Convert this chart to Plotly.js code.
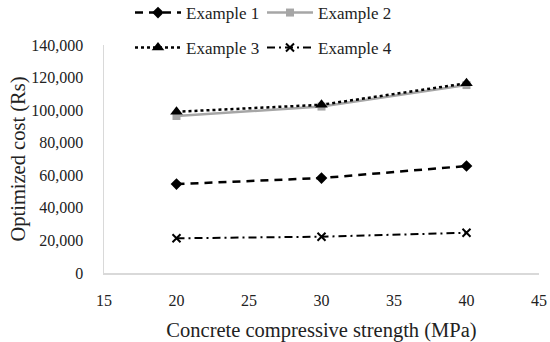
<!DOCTYPE html>
<html>
<head>
<meta charset="utf-8">
<script src="https://cdn.plot.ly/plotly-3.0.1.min.js"></script>
<style>html,body{margin:0;padding:0;background:#fff;}#chart{width:550px;height:342px;}</style>
</head>
<body>
<div id="chart"></div>
<script>
var strength = [20, 30, 40];
var example1 = [54600, 58300, 65700];
var example2 = [96400, 102200, 115400];
var example3 = [99000, 103300, 116500];
var example4 = [21300, 22300, 24700];
var seriesNames = ["Example 1", "Example 2", "Example 3", "Example 4"];
var xTicks = [15, 20, 25, 30, 35, 40, 45];
var yTicks = [0, 20000, 40000, 60000, 80000, 100000, 120000, 140000];

var fontFam = "'Liberation Serif', 'DejaVu Serif', serif";
var traces = [
  {x: strength, y: example1, name: seriesNames[0], mode: "lines+markers", legend: "legend",
   line: {color: "#000", width: 2.5, dash: "8px,6px"}, marker: {symbol: "diamond", size: 9, color: "#000"}},
  {x: strength, y: example2, name: seriesNames[1], mode: "lines+markers", legend: "legend",
   line: {color: "#a6a6a6", width: 2.5}, marker: {symbol: "square", size: 8, color: "#a6a6a6"}},
  {x: strength, y: example3, name: seriesNames[2], mode: "lines+markers", legend: "legend2",
   line: {color: "#000", width: 2.5, dash: "dot"}, marker: {symbol: "triangle-up", size: 11, color: "#000"}},
  {x: strength, y: example4, name: seriesNames[3], mode: "lines+markers", legend: "legend2",
   line: {color: "#000", width: 2, dash: "8px,4px,2px,4px"}, marker: {symbol: "x-thin", size: 8, line: {color: "#000", width: 2}, color: "#000"}}
];
var legBase = {orientation: "h", xref: "container", yref: "container", xanchor: "left", yanchor: "middle",
  font: {family: fontFam, size: 17, color: "#222"}, bgcolor: "rgba(0,0,0,0)", entrywidth: 71, entrywidthmode: "pixels",
  itemwidth: 46, tracegroupgap: 0};
var layout = {
  width: 550, height: 342,
  margin: {l: 104, r: 11, t: 45, b: 69, autoexpand: false},
  paper_bgcolor: "#fff", plot_bgcolor: "#fff",
  font: {family: fontFam, size: 16, color: "#222"},
  showlegend: true,
  legend: Object.assign({}, legBase, {x: 130/550, y: 1 - 13/342}),
  legend2: Object.assign({}, legBase, {x: 130/550, y: 1 - 48/342}),
  xaxis: {range: [15, 45], tickvals: xTicks, ticks: "", showgrid: false, zeroline: false,
    showline: true, linecolor: "#d9d9d9", linewidth: 1.5, ticklabelstandoff: 12,
    tickfont: {family: fontFam, size: 16, color: "#222"},
    title: {text: "Concrete compressive strength (MPa)", font: {family: fontFam, size: 20.5, color: "#222"}, standoff: 15}},
  yaxis: {range: [0, 140000], tickvals: yTicks, tickformat: ",d", ticks: "", showgrid: false, zeroline: false,
    showline: true, linecolor: "#d9d9d9", linewidth: 1.5, ticklabelstandoff: 16,
    tickfont: {family: fontFam, size: 16, color: "#222"},
    title: {text: "Optimized cost (Rs)", font: {family: fontFam, size: 20.5, color: "#222"}, standoff: 0}}
};
Plotly.newPlot("chart", traces, layout, {displayModeBar: false, staticPlot: true});
</script>
</body>
</html>
